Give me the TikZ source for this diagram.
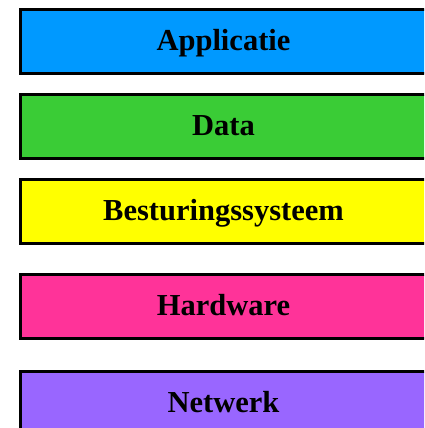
\documentclass[tikz,border=0pt]{standalone}
\usepackage{fontspec}
\setmainfont{Liberation Serif}
\usepackage{xcolor}
\definecolor{appblue}{HTML}{0099FF}
\definecolor{datagreen}{HTML}{3ACC36}
\definecolor{osyellow}{HTML}{FFFF00}
\definecolor{hwpink}{HTML}{FF3399}
\definecolor{netpurple}{HTML}{9966FF}
\usetikzlibrary{positioning}
\tikzset{layer/.style={rectangle, draw=black, line width=3pt, anchor=north west,
    minimum width=406pt, minimum height=64pt, inner sep=0pt,
    text height=22pt, text depth=4pt,
    font=\fontsize{30.5pt}{36pt}\selectfont\bfseries}}

\begin{document}
\begin{tikzpicture}[x=1pt,y=-1pt]
    \useasboundingbox (0,0) rectangle (424,428);
    \clip (0,0) rectangle (424,428);
    % Place layers
    \node [layer,fill=appblue] (applicatie) at (19,8) {Applicatie};
    \node [layer,fill=datagreen] (data) at (19,93) {Data};
    \node [layer,fill=osyellow] (besturing) at (19,178) {Besturingssysteem};
    \node [layer,fill=hwpink] (hardware) at (19,273) {Hardware};
    \node [layer,fill=netpurple] (netwerk) at (19,370) {Netwerk};
\end{tikzpicture}
\end{document}
